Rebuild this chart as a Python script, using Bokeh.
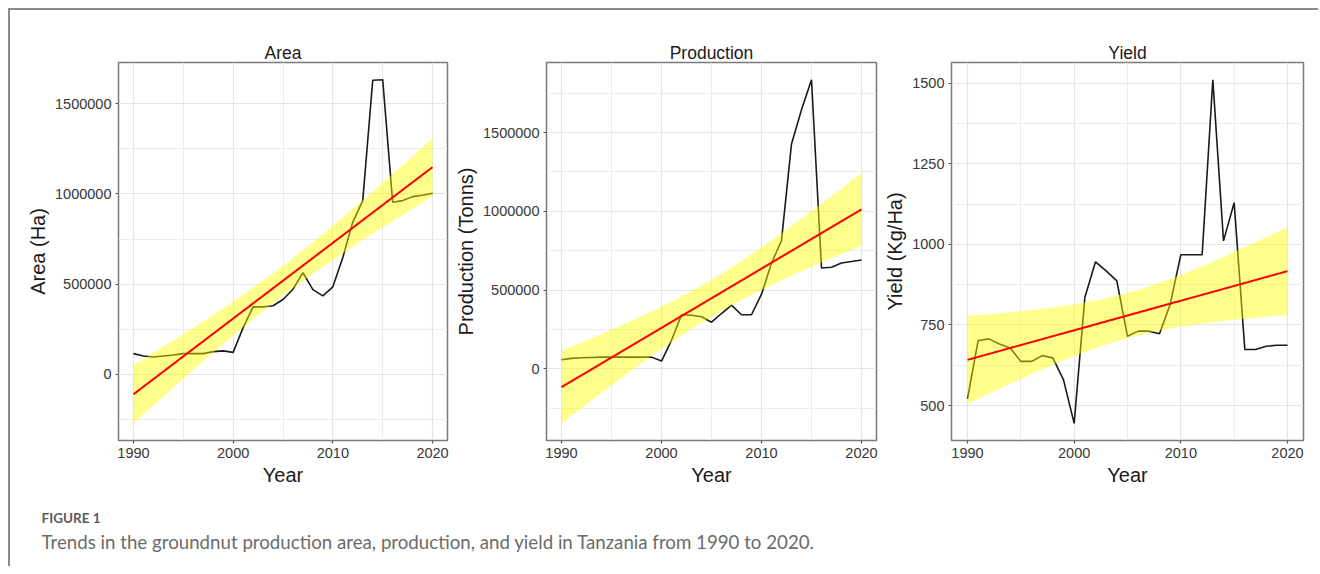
import numpy as np
from bokeh.plotting import figure
from bokeh.models import Range1d, FixedTicker, BasicTickFormatter, Label
from bokeh.layouts import row, column
from bokeh.embed import file_html
from bokeh.resources import INLINE

# ---------------- data ----------------
years = list(range(1990, 2021))

area_ha = [115000, 102000, 96000, 102000, 107000, 115000, 115000, 115000, 126000, 130000,
           122000, 259000, 374000, 374000, 380000, 415000, 472000, 563000, 470000, 435000,
           485000, 648000, 844000, 963000, 1630000, 1633000, 954000, 963000, 985000, 993000,
           1004000]

production_t = [57000, 66000, 70000, 72000, 74000, 74000, 74000, 74000, 74000, 74000,
                49000, 181000, 343000, 340000, 330000, 296000, 351000, 404000, 343000, 343000,
                474000, 670000, 815000, 1428000, 1645000, 1836000, 640000, 645000, 672000, 681000,
                691000]

yield_kgha = [521, 702, 707, 691, 679, 637, 637, 655, 648, 580,
              445, 835, 946, 918, 887, 715, 731, 731, 723, 814,
              968, 968, 968, 1511, 1011, 1129, 674, 674, 684, 687,
              687]

x_ticks = [1990, 2000, 2010, 2020]
x_minor = [1995, 2005, 2015]
area_ticks = [0, 500000, 1000000, 1500000]
area_minor = [-250000, 250000, 750000, 1250000]
prod_ticks = [0, 500000, 1000000, 1500000]
prod_minor = [-250000, 250000, 750000, 1250000, 1750000]
yield_ticks = [500, 750, 1000, 1250, 1500]
yield_minor = [625, 875, 1125, 1375]

T975 = 2.0452  # t quantile, df = 29


def lm_band(xs, ys, n_out=80):
    x = np.asarray(xs, float)
    y = np.asarray(ys, float)
    n = len(x)
    xm = x.mean()
    sxx = ((x - xm) ** 2).sum()
    b1 = ((x - xm) * (y - y.mean())).sum() / sxx
    b0 = y.mean() - b1 * xm
    s = np.sqrt(((y - (b0 + b1 * x)) ** 2).sum() / (n - 2))
    xg = np.linspace(x.min(), x.max(), n_out)
    yh = b0 + b1 * xg
    se = s * np.sqrt(1.0 / n + (xg - xm) ** 2 / sxx)
    return xg, yh, yh - T975 * se, yh + T975 * se


FONT = "Liberation Sans"


def panel(title, ylabel, vals, yt, ym, width, mbl):
    xg, yh, lo, hi = lm_band(years, vals)
    ymin = min(min(vals), lo.min())
    ymax = max(max(vals), hi.max())
    pad = 0.05 * (ymax - ymin)
    p = figure(width=width, height=480, output_backend="svg", toolbar_location=None,
               x_range=Range1d(1988.5, 2021.5), y_range=Range1d(ymin - pad, ymax + pad),
               min_border_left=mbl, min_border_right=5, min_border_top=52, min_border_bottom=50,
               title=title)
    p.background_fill_color = "white"
    p.border_fill_color = "white"
    p.outline_line_color = "#7a7a7a"
    p.outline_line_width = 1.5

    p.title.align = "center"
    p.title.text_font = FONT
    p.title.text_font_size = "17.5px"
    p.title.text_font_style = "normal"
    p.title.text_color = "#1a1a1a"
    p.title.standoff = 0

    p.xaxis.ticker = FixedTicker(ticks=x_ticks, minor_ticks=x_minor)
    p.yaxis.ticker = FixedTicker(ticks=yt, minor_ticks=ym)
    p.yaxis.formatter = BasicTickFormatter(use_scientific=False)
    p.xaxis.axis_label = "Year"
    p.yaxis.axis_label = ylabel
    for ax in (p.xaxis, p.yaxis):
        ax.axis_line_color = None
        ax.major_tick_in = 0
        ax.major_tick_out = 3
        ax.major_tick_line_color = "#555555"
        ax.major_tick_line_width = 1.2
        ax.minor_tick_line_color = None
        ax.major_label_text_font = FONT
        ax.major_label_text_font_size = "14.5px"
        ax.major_label_text_color = "#383838"
        ax.major_label_standoff = 3
        ax.axis_label_text_font = FONT
        ax.axis_label_text_font_size = "20px"
        ax.axis_label_text_font_style = "normal"
        ax.axis_label_text_color = "#1a1a1a"
        ax.axis_label_standoff = 3

    for g in (p.xgrid, p.ygrid):
        g.grid_line_color = "#e4e4e4"
        g.grid_line_width = 1.2
        g.minor_grid_line_color = "#ececec"
        g.minor_grid_line_width = 1.0

    p.line(years, vals, line_color="#1a1a1a", line_width=1.6)
    p.varea(x=xg, y1=lo, y2=hi, fill_color="yellow", fill_alpha=0.45)
    p.line(xg, yh, line_color="red", line_width=2)
    return p


p1 = panel("Area", "Area (Ha)", area_ha, area_ticks, area_minor, 442, 108)
p2 = panel("Production", "Production (Tonns)", production_t, prod_ticks, prod_minor, 429, 94)
p3 = panel("Yield", "Yield (Kg/Ha)", yield_kgha, yield_ticks, yield_minor, 427, 68)

cap = figure(width=1308, height=76, output_backend="svg", toolbar_location=None,
             x_range=Range1d(0, 1308), y_range=Range1d(76, 0),
             min_border=0, min_border_left=0, min_border_right=0,
             min_border_top=0, min_border_bottom=0)
cap.axis.visible = False
cap.grid.visible = False
cap.outline_line_color = None
cap.background_fill_color = "white"
cap.border_fill_color = "white"
cap.add_layout(Label(x=31, y=27, text="FIGURE 1", text_font="Lato", text_font_size="13.5px",
                     text_font_style="bold", text_color="#5a5a5a", text_baseline="middle"))
cap.add_layout(Label(x=31, y=51,
                     text="Trends in the groundnut production area, production, and yield in Tanzania from 1990 to 2020.",
                     text_font="Lato", text_font_size="18.7px", text_color="#6b6b6b",
                     text_baseline="middle"))

layout = column(row(p1, p2, p3), cap, margin=(8, 0, 0, 8),
                styles={"border-left": "2px solid #8a8a8a", "border-top": "2px solid #8a8a8a"})

open("out.html", "w").write(file_html(layout, INLINE))
